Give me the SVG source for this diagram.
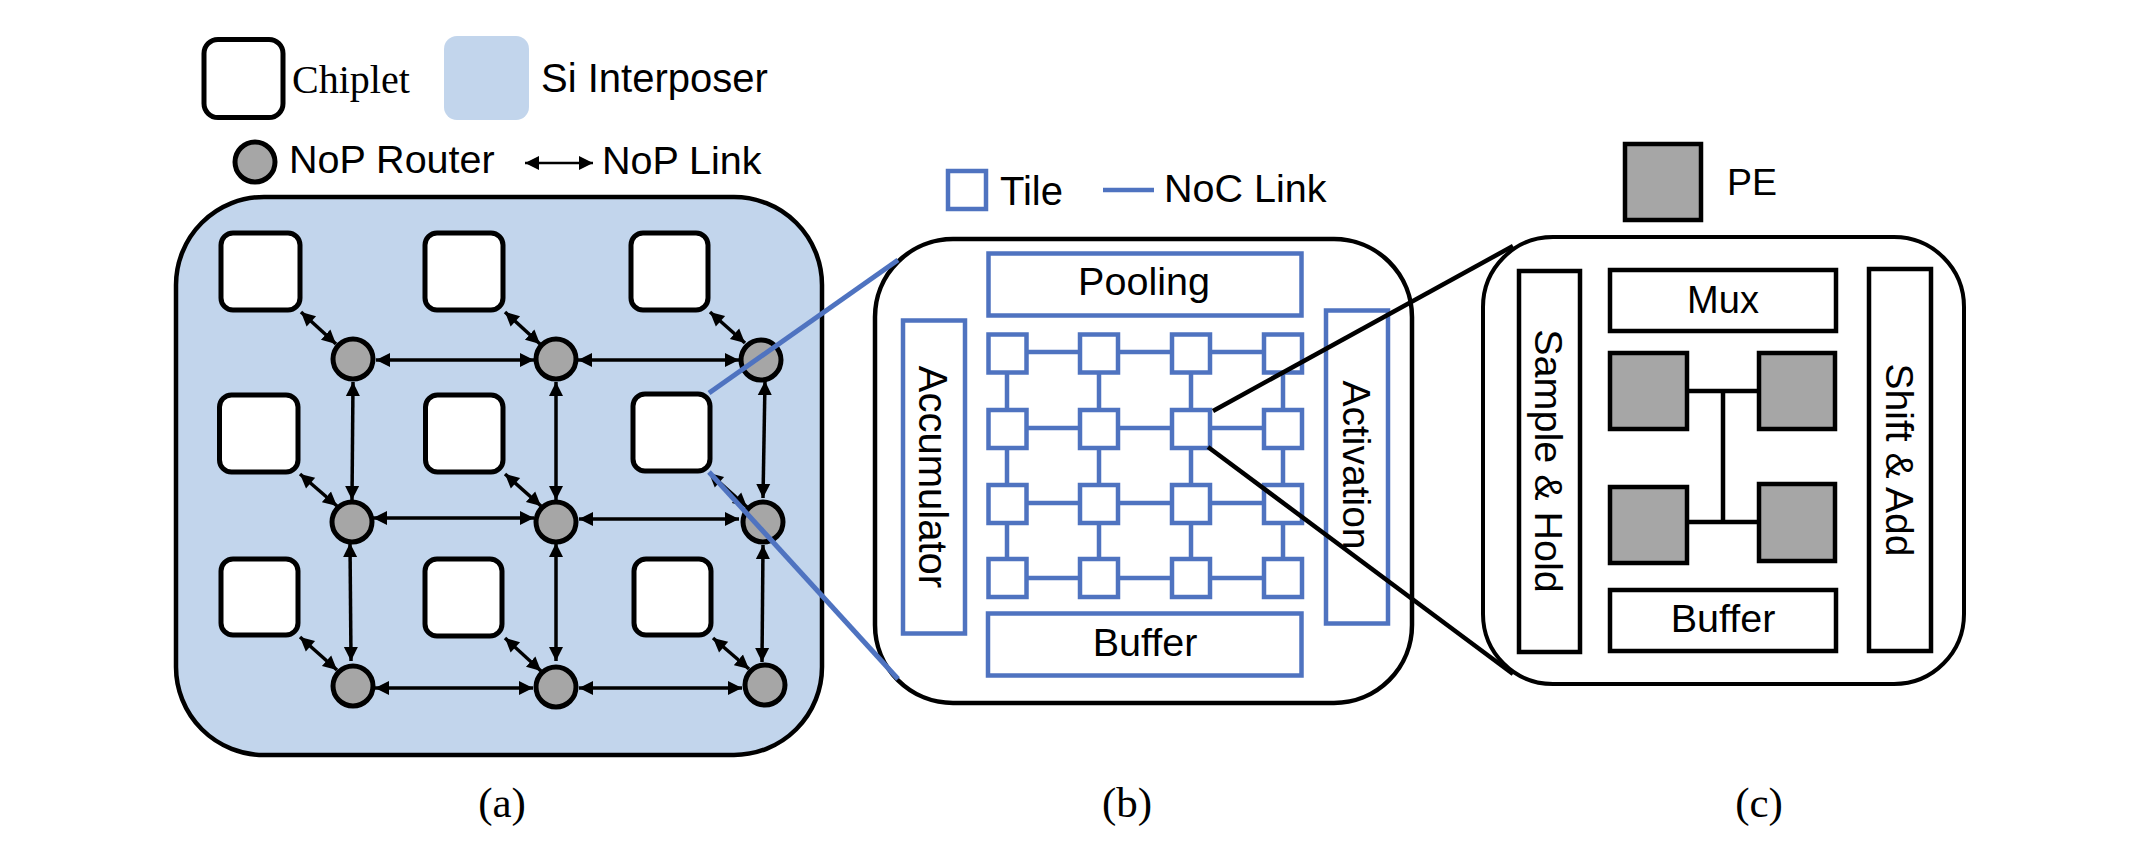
<svg xmlns="http://www.w3.org/2000/svg" width="2146" height="856" viewBox="0 0 2146 856">
<style>
text{font-family:"Liberation Sans",Arial,sans-serif;font-size:39.5px;fill:#000}
.serif{font-family:"Liberation Serif","Times New Roman",serif}
.mid{text-anchor:middle}
.chip{fill:#fff;stroke:#000;stroke-width:5}
.router{fill:#a6a6a6;stroke:#000;stroke-width:5}
.tile{fill:#fff;stroke:#4f73c0;stroke-width:4.5}
.unit{fill:#fff;stroke:#000;stroke-width:4.5}
.pe{fill:#a6a6a6;stroke:#000;stroke-width:4.5}
.arrow{fill:none;stroke:#000;stroke-width:3.5;marker-start:url(#hs);marker-end:url(#he)}
.arrow-thin{fill:none;stroke:#000;stroke-width:2.5;marker-start:url(#hs);marker-end:url(#he)}
.noc{fill:none;stroke:#4f73c0;stroke-width:4.5}
.wire{fill:none;stroke:#000;stroke-width:4.5}
</style>
<defs>
<marker id="he" markerUnits="userSpaceOnUse" markerWidth="16" markerHeight="16" refX="14" refY="8" orient="auto"><path d="M0 1 L14 8 L0 15Z" fill="#000"/></marker>
<marker id="hs" markerUnits="userSpaceOnUse" markerWidth="16" markerHeight="16" refX="0" refY="8" orient="auto"><path d="M14 1 L0 8 L14 15Z" fill="#000"/></marker>
</defs>
<rect width="2146" height="856" fill="#fff"/>

<g id="legend-a">
<rect class="chip" x="204" y="39.500" width="79" height="78" rx="14"/>
<text class="serif" x="292" y="93" style="font-size:40px">Chiplet</text>
<rect x="444" y="36" width="85" height="84" rx="13" fill="#c2d5ec"/>
<text x="541" y="92" style="font-size:40px">Si Interposer</text>
<circle class="router" cx="255" cy="162" r="20"/>
<text x="289" y="173">NoP Router</text>
<line class="arrow-thin" x1="525" y1="163" x2="593" y2="163"/>
<text x="602" y="174">NoP Link</text>
</g>

<g id="panel-a"><rect x="176" y="197" width="646" height="558" rx="88" fill="#c2d5ec" stroke="#000" stroke-width="4.500"/></g>

<g id="chiplets">
<rect id="chiplet-1" class="chip" x="221" y="233" width="79" height="77" rx="12"/>
<rect id="chiplet-2" class="chip" x="425" y="233" width="78" height="77" rx="12"/>
<rect id="chiplet-3" class="chip" x="631" y="233" width="77" height="77" rx="12"/>
<rect id="chiplet-4" class="chip" x="219.500" y="395" width="78.500" height="77" rx="12"/>
<rect id="chiplet-5" class="chip" x="425.500" y="395" width="77.500" height="77" rx="12"/>
<rect id="chiplet-6" class="chip" x="633" y="394" width="77" height="77" rx="12"/>
<rect id="chiplet-7" class="chip" x="221" y="559" width="77" height="76" rx="12"/>
<rect id="chiplet-8" class="chip" x="425" y="559" width="77" height="77" rx="12"/>
<rect id="chiplet-9" class="chip" x="634" y="559" width="77" height="76" rx="12"/>
</g>

<g id="routers">
<circle id="router-1" class="router" cx="353" cy="359" r="20"/>
<circle id="router-2" class="router" cx="556" cy="359" r="20"/>
<circle id="router-3" class="router" cx="761" cy="360" r="20"/>
<circle id="router-4" class="router" cx="352" cy="522" r="20"/>
<circle id="router-5" class="router" cx="556" cy="522" r="20"/>
<circle id="router-6" class="router" cx="763" cy="522" r="20"/>
<circle id="router-7" class="router" cx="353" cy="686" r="20"/>
<circle id="router-8" class="router" cx="556" cy="687" r="20"/>
<circle id="router-9" class="router" cx="765" cy="685" r="20"/>
</g>

<g id="panel-b">
<rect x="875" y="239" width="537" height="464" rx="78" fill="#fff" stroke="#000" stroke-width="4.500"/>
</g>
<g id="legend-b">
<rect class="tile" x="948" y="171" width="38" height="38"/>
<text x="1000" y="205" style="font-size:40px">Tile</text>
<line class="noc" x1="1103" y1="190" x2="1154" y2="190"/>
<text x="1164" y="202">NoC Link</text>
</g>
<g id="noc-links">
<path class="noc" d="M1007 352H1283M1007 428H1283M1007 503H1283M1007 578H1283M1007 352V578M1099 352V578M1191 352V578M1283 352V578"/>
</g>
<g id="tiles">
<rect class="tile" x="988.500" y="334.500" width="38" height="38"/><rect class="tile" x="1080" y="334.500" width="38" height="38"/><rect class="tile" x="1172" y="334.500" width="38" height="38"/><rect class="tile" x="1264" y="334.500" width="38" height="38"/>
<rect class="tile" x="988.500" y="410" width="38" height="38"/><rect class="tile" x="1080" y="410" width="38" height="38"/><rect class="tile" x="1172" y="410" width="38" height="38"/><rect class="tile" x="1264" y="410" width="38" height="38"/>
<rect class="tile" x="988.500" y="485" width="38" height="38"/><rect class="tile" x="1080" y="485" width="38" height="38"/><rect class="tile" x="1172" y="485" width="38" height="38"/><rect class="tile" x="1264" y="485" width="38" height="38"/>
<rect class="tile" x="988.500" y="559" width="38" height="38"/><rect class="tile" x="1080" y="559" width="38" height="38"/><rect class="tile" x="1172" y="559" width="38" height="38"/><rect class="tile" x="1264" y="559" width="38" height="38"/>
</g>
<g id="pooling"><rect class="tile" x="988.500" y="253.500" width="313" height="62"/><text class="mid" x="1144" y="295">Pooling</text></g>
<g id="buffer-b"><rect class="tile" x="988" y="613.500" width="313.500" height="62"/><text class="mid" x="1145" y="656">Buffer</text></g>
<g id="accumulator"><rect class="tile" x="903" y="320.500" width="62" height="313"/><text class="mid" transform="translate(919 477) rotate(90)" style="font-size:40px">Accumulator</text></g>
<g id="activation"><rect class="tile" x="1326" y="310.500" width="62" height="313"/><text class="mid" transform="translate(1343 465) rotate(90)" style="font-size:39px">Activation</text></g>

<g id="legend-c">
<rect class="pe" x="1625" y="144" width="76" height="76"/>
<text x="1727" y="195" style="font-size:37.500px">PE</text>
</g>
<g id="panel-c"><rect x="1483" y="237" width="481" height="447" rx="70" fill="#fff" stroke="#000" stroke-width="4"/></g>
<g id="sample-hold"><rect class="unit" x="1519" y="271" width="61" height="381"/><text class="mid" transform="translate(1535 461) rotate(90)">Sample &amp; Hold</text></g>
<g id="mux"><rect class="unit" x="1610" y="270" width="226" height="61"/><text class="mid" x="1723" y="313" style="font-size:38px">Mux</text></g>
<g id="shift-add"><rect class="unit" x="1869" y="269" width="62" height="382"/><text class="mid" transform="translate(1886 460) rotate(90)" style="font-size:39px">Shift &amp; Add</text></g>
<g id="buffer-c"><rect class="unit" x="1610" y="590" width="226" height="61"/><text class="mid" x="1723" y="632">Buffer</text></g>
<g id="pe-links"><path class="wire" d="M1689 391H1757M1689 522H1757M1723 391V522"/></g>
<g id="pes">
<rect class="pe" x="1610" y="353" width="77" height="76"/>
<rect class="pe" x="1759" y="353" width="76" height="76"/>
<rect class="pe" x="1610" y="487" width="77" height="76"/>
<rect class="pe" x="1759" y="484" width="76" height="77"/>
</g>

<g id="connectors">
<line class="arrow" x1="301" y1="312" x2="336" y2="344"/>
<line class="arrow" x1="505" y1="312" x2="540" y2="344"/>
<line class="arrow" x1="710" y1="312" x2="745" y2="343"/>
<line class="arrow" x1="300" y1="474" x2="337" y2="506"/>
<line class="arrow" x1="505" y1="474" x2="541" y2="506"/>
<line class="arrow" x1="709" y1="473" x2="747" y2="507"/>
<line class="arrow" x1="300" y1="637" x2="337" y2="670"/>
<line class="arrow" x1="505" y1="638" x2="541" y2="671"/>
<line class="arrow" x1="713" y1="638" x2="749" y2="669"/>
<line class="arrow" x1="376" y1="360" x2="534" y2="360"/>
<line class="arrow" x1="578" y1="360" x2="739" y2="360"/>
<line class="arrow" x1="373" y1="518" x2="534" y2="518"/>
<line class="arrow" x1="579" y1="519" x2="739" y2="519"/>
<line class="arrow" x1="375" y1="688" x2="533" y2="688"/>
<line class="arrow" x1="579" y1="688" x2="742" y2="688"/>
<line class="arrow" x1="353" y1="382" x2="352" y2="500"/>
<line class="arrow" x1="556" y1="382" x2="556" y2="500"/>
<line class="arrow" x1="765" y1="381" x2="763" y2="498"/>
<line class="arrow" x1="350" y1="543" x2="351" y2="661"/>
<line class="arrow" x1="556" y1="543" x2="556" y2="661"/>
<line class="arrow" x1="763" y1="545" x2="762" y2="662"/>
<line class="noc" style="stroke-width:5" x1="709" y1="393" x2="898" y2="260"/>
<line class="noc" style="stroke-width:5" x1="709" y1="472" x2="898" y2="679"/>
<line class="wire" x1="1213" y1="411" x2="1513" y2="246"/>
<line class="wire" x1="1208" y1="447" x2="1513" y2="674"/>
</g>

<g id="captions">
<text class="serif mid" x="502" y="817" style="font-size:43px">(a)</text>
<text class="serif mid" x="1127" y="817" style="font-size:43px">(b)</text>
<text class="serif mid" x="1759" y="817" style="font-size:43px">(c)</text>
</g>
</svg>
